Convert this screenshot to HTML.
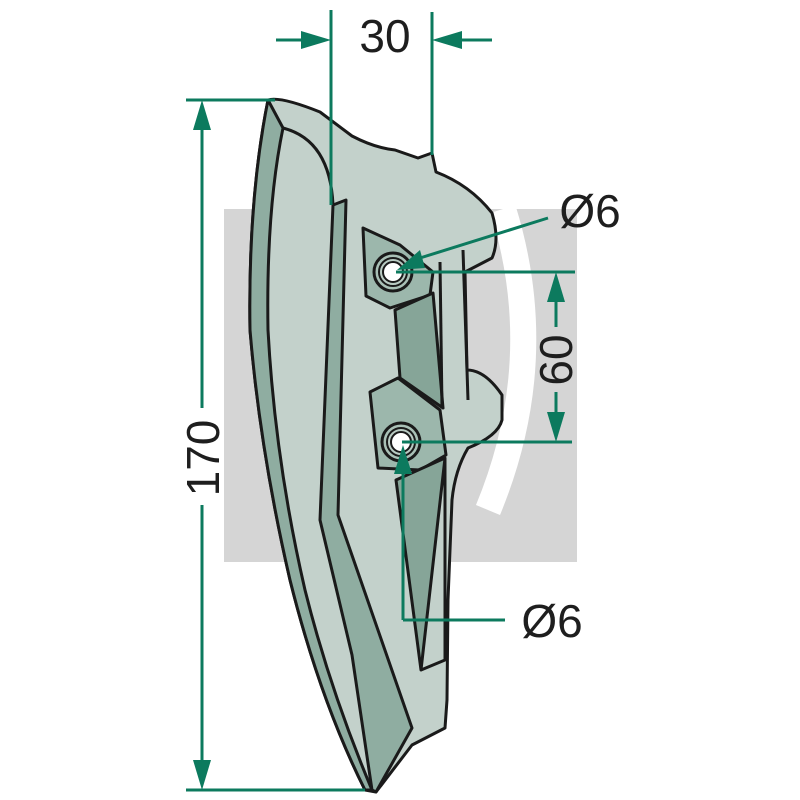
<!DOCTYPE html>
<html><head><style>html,body{margin:0;padding:0;background:#fff}svg{display:block}</style></head>
<body>
<svg width="800" height="800" viewBox="0 0 800 800" xmlns="http://www.w3.org/2000/svg">
<rect x="224" y="209" width="353" height="353" fill="#d5d5d5"/>
<path d="M503 209 Q550 360 488 510" stroke="#fff" stroke-width="26" fill="none"/>
<g stroke="#1a1a1a" stroke-width="3" stroke-linejoin="round">
<path d="M268 100 Q280 96 320 112 L352 136 Q375 148 395 150 L418 158 L432 153 L436 172 Q470 185 492 213 Q500 240 492 258 L465 272 L467 370 Q485 370 502 395 L502 420 Q498 436 468 448 Q455 470 452 500 L448 600 L447 700 L445 728 L412 745 L376 792 L365 790 Q320 700 290 580 Q260 450 250 330 Q248 200 268 100 Z" fill="#c3d1cb"/>
<path d="M268 100 Q248 200 250 330 Q260 450 290 580 Q320 700 365 790 L372 790 Q330 690 305 590 Q275 460 268 330 Q266 210 283 128 Z" fill="#8fada1"/>
<path d="M333 205 L346 200 L338 515 L412 728 L376 792 L372 790 L352 655 L320 520 Z" fill="#8fada1"/>
<path d="M363 228 L400 245 L433 272 L430 295 L390 308 L366 296 Z" fill="#9cb7ac"/>
<path d="M395 310 L433 293 L443 408 L400 378 Z" fill="#86a598"/>
<path d="M370 392 L398 378 L440 410 L446 455 L420 470 L378 468 Z" fill="#9cb7ac"/>
<path d="M396 480 L445 458 L421 670 Z" fill="#86a598"/>
<path d="M445 458 L445 660 L421 670" fill="none"/>
<path d="M440 262 L442 408" fill="none"/>
<path d="M463 250 L468 400" fill="none"/>
<path d="M283 128 Q330 140 333 205" fill="none"/>
<circle cx="393" cy="272" r="19" fill="#a9c0b6"/>
<circle cx="393" cy="272" r="14" fill="#b9cbc3" stroke-width="2"/>
<circle cx="393" cy="272" r="10" fill="#fff" stroke-width="2"/>
<circle cx="401" cy="442" r="19" fill="#a9c0b6"/>
<circle cx="401" cy="442" r="14" fill="#b9cbc3" stroke-width="2"/>
<circle cx="401" cy="442" r="10" fill="#fff" stroke-width="2"/>
</g>
<g stroke="#0c7a5e" stroke-width="3" fill="none">
<line x1="331" y1="10" x2="331" y2="205"/>
<line x1="432" y1="12" x2="432" y2="155"/>
<line x1="276" y1="40" x2="305" y2="40"/>
<line x1="460" y1="40" x2="492" y2="40"/>
<line x1="186" y1="100" x2="275" y2="100"/>
<line x1="186" y1="790" x2="365" y2="790"/>
<line x1="202" y1="128" x2="202" y2="408"/>
<line x1="202" y1="505" x2="202" y2="762"/>
<line x1="396" y1="272" x2="575" y2="272"/>
<line x1="402" y1="442" x2="572" y2="442"/>
<line x1="556" y1="300" x2="556" y2="327"/>
<line x1="556" y1="392" x2="556" y2="414"/>
<line x1="548" y1="218" x2="420" y2="258"/>
<line x1="505" y1="620" x2="403" y2="620"/>
<line x1="403" y1="620" x2="403" y2="470"/>
</g>
<g fill="#0c7a5e">
<path d="M331 40 L301 31 L301 49 Z"/>
<path d="M432 40 L462 31 L462 49 Z"/>
<path d="M202 100 L193 130 L211 130 Z"/>
<path d="M202 790 L193 760 L211 760 Z"/>
<path d="M556 272 L547 302 L565 302 Z"/>
<path d="M556 442 L547 412 L565 412 Z"/>
<path d="M397 270 L420 250 L425 268 Z"/>
<path d="M403 445 L394 474 L412 474 Z"/>
</g>
<g font-family="Liberation Sans, sans-serif" font-size="46" fill="#1e1e1e">
<text x="385" y="52" text-anchor="middle">30</text>
<text x="590" y="227" text-anchor="middle">Ø6</text>
<text x="552" y="637" text-anchor="middle">Ø6</text>
<text transform="translate(219,458) rotate(-90)" text-anchor="middle">170</text>
<text transform="translate(572,360) rotate(-90)" text-anchor="middle">60</text>
</g>
</svg>
</body></html>
